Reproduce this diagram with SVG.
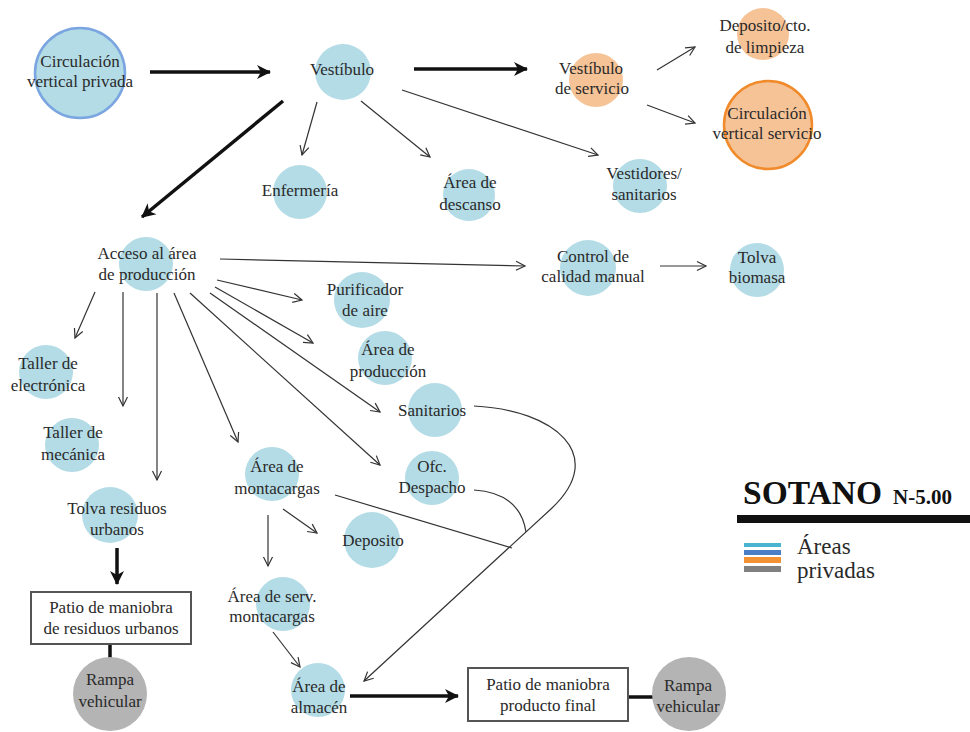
<svg xmlns="http://www.w3.org/2000/svg" width="970" height="732" viewBox="0 0 970 732">
<defs>
<style>
.lb{fill:#b3dce6}
.or{fill:#f6c397}
.gr{fill:#b4b4b4}
text{font-family:"Liberation Serif","DejaVu Serif",serif;font-size:17px;fill:#2a2a2a;text-anchor:middle}
.th{fill:none;stroke:#333;stroke-width:1.2}
.tk{fill:none;stroke:#111;stroke-width:3.5}
.box{fill:#fff;stroke:#555;stroke-width:2}
</style>
<marker id="a" markerUnits="userSpaceOnUse" markerWidth="14" markerHeight="14" refX="10" refY="6" orient="auto">
<path d="M1,1.5 L10,6 L1,10.5" fill="none" stroke="#333" stroke-width="1.2"/>
</marker>
<marker id="b" markerUnits="userSpaceOnUse" markerWidth="18" markerHeight="18" refX="13" refY="8" orient="auto">
<path d="M0,1 L14,8 L0,15 L4,8 z" fill="#111"/>
</marker>
</defs>
<rect width="970" height="732" fill="#fff"/>

<g id="connectors">
<line class="tk" x1="150" y1="72" x2="270" y2="72" marker-end="url(#b)"/>
<line class="tk" x1="414" y1="69" x2="527" y2="69" marker-end="url(#b)"/>
<line class="tk" x1="283" y1="101" x2="142" y2="217" marker-end="url(#b)"/>
<line class="th" x1="317" y1="102" x2="302" y2="155" marker-end="url(#a)"/>
<line class="th" x1="361" y1="101" x2="430" y2="157" marker-end="url(#a)"/>
<line class="th" x1="402" y1="90" x2="598" y2="155" marker-end="url(#a)"/>
<line class="th" x1="657" y1="70" x2="695" y2="47" marker-end="url(#a)"/>
<line class="th" x1="647" y1="105" x2="695" y2="123" marker-end="url(#a)"/>
<line class="th" x1="220" y1="259" x2="525" y2="266" marker-end="url(#a)"/>
<line class="th" x1="660" y1="266" x2="706" y2="266" marker-end="url(#a)"/>
<line class="th" x1="217" y1="280" x2="302" y2="300" marker-end="url(#a)"/>
<line class="th" x1="215" y1="287" x2="313" y2="343" marker-end="url(#a)"/>
<line class="th" x1="210" y1="293" x2="380" y2="412" marker-end="url(#a)"/>
<line class="th" x1="190" y1="293" x2="380" y2="465" marker-end="url(#a)"/>
<line class="th" x1="174" y1="293" x2="238" y2="442" marker-end="url(#a)"/>
<line class="th" x1="95" y1="292" x2="75" y2="338" marker-end="url(#a)"/>
<line class="th" x1="123" y1="292" x2="123" y2="406" marker-end="url(#a)"/>
<line class="th" x1="157" y1="293" x2="157" y2="480" marker-end="url(#a)"/>
<line class="tk" x1="117" y1="548" x2="117" y2="584" marker-end="url(#b)"/>
<line class="tk" x1="110" y1="644" x2="110" y2="658"/>
<line class="th" x1="283" y1="509" x2="317" y2="533" marker-end="url(#a)"/>
<line class="th" x1="268" y1="515" x2="268" y2="566" marker-end="url(#a)"/>
<line class="th" x1="273" y1="632" x2="300" y2="667" marker-end="url(#a)"/>
<line class="tk" x1="350" y1="696" x2="458" y2="696" marker-end="url(#b)"/>
<line class="tk" x1="628" y1="697" x2="653" y2="697"/>
<path class="th" d="M474 406 C555 410 608 455 552 508 L364 681" marker-end="url(#a)"/>
<path class="th" d="M474 490 Q520 493 526 532"/>
<line class="th" x1="335" y1="495" x2="512" y2="548"/>
</g>

<g id="n-circ-privada"><circle cx="80" cy="73" r="45" class="lb" stroke="#7aa5e0" stroke-width="2.5"/><text x="80" y="67">Circulación</text><text x="80" y="87">vertical privada</text></g>
<g id="n-vestibulo"><circle cx="343" cy="72" r="28" class="lb"/><text x="342" y="75">Vestíbulo</text></g>
<g id="n-vest-servicio"><circle cx="596" cy="80" r="27" class="or"/><text x="591" y="74">Vestíbulo</text><text x="592" y="94">de servicio</text></g>
<g id="n-deposito-limpieza"><circle cx="763" cy="34" r="26" class="or"/><text x="765" y="31">Deposito/cto.</text><text x="765" y="53">de limpieza</text></g>
<g id="n-circ-servicio"><circle cx="768" cy="125" r="44" class="or" stroke="#f08a2a" stroke-width="2.5"/><text x="767" y="119">Circulación</text><text x="767" y="139">vertical servicio</text></g>
<g id="n-enfermeria"><circle cx="300" cy="192" r="27" class="lb"/><text x="300" y="196">Enfermería</text></g>
<g id="n-descanso"><circle cx="469" cy="195" r="26" class="lb"/><text x="470" y="188">Área de</text><text x="470" y="210">descanso</text></g>
<g id="n-vestidores"><circle cx="640" cy="186" r="27" class="lb"/><text x="644" y="179">Vestidores/</text><text x="644" y="200">sanitarios</text></g>
<g id="n-acceso"><circle cx="146" cy="264" r="27" class="lb"/><text x="147" y="259">Acceso al área</text><text x="147" y="280">de producción</text></g>
<g id="n-control"><circle cx="588" cy="268" r="28" class="lb"/><text x="593" y="262">Control de</text><text x="593" y="282">calidad manual</text></g>
<g id="n-tolva-biomasa"><circle cx="757" cy="270" r="27" class="lb"/><text x="757" y="263">Tolva</text><text x="757" y="283">biomasa</text></g>
<g id="n-purificador"><circle cx="362" cy="300" r="28" class="lb"/><text x="365" y="295">Purificador</text><text x="365" y="316">de aire</text></g>
<g id="n-area-produccion"><circle cx="385" cy="358" r="27" class="lb"/><text x="388" y="355">Área de</text><text x="388" y="377">producción</text></g>
<g id="n-sanitarios"><circle cx="435" cy="410" r="27" class="lb"/><text x="432" y="416">Sanitarios</text></g>
<g id="n-despacho"><circle cx="432" cy="478" r="27" class="lb"/><text x="432" y="472">Ofc.</text><text x="432" y="493">Despacho</text></g>
<g id="n-montacargas"><circle cx="272" cy="474" r="27" class="lb"/><text x="277" y="472">Área de</text><text x="277" y="494">montacargas</text></g>
<g id="n-electronica"><circle cx="46" cy="372" r="27" class="lb"/><text x="48" y="369">Taller de</text><text x="48" y="391">electrónica</text></g>
<g id="n-mecanica"><circle cx="72" cy="445" r="27" class="lb"/><text x="73" y="438">Taller de</text><text x="73" y="460">mecánica</text></g>
<g id="n-tolva-residuos"><circle cx="110" cy="515" r="28" class="lb"/><text x="117" y="514">Tolva residuos</text><text x="117" y="535">urbanos</text></g>
<g id="n-patio-residuos"><rect x="31" y="592" width="160" height="52" class="box"/><text x="111" y="613">Patio de maniobra</text><text x="111" y="634">de residuos urbanos</text></g>
<g id="n-rampa1"><circle cx="110" cy="694" r="37" class="gr"/><text x="110" y="685">Rampa</text><text x="110" y="707">vehicular</text></g>
<g id="n-deposito"><circle cx="372" cy="540" r="28" class="lb"/><text x="373" y="546">Deposito</text></g>
<g id="n-serv-montacargas"><circle cx="283" cy="604" r="27" class="lb"/><text x="272" y="602">Área de serv.</text><text x="272" y="622">montacargas</text></g>
<g id="n-almacen"><circle cx="318" cy="690" r="27" class="lb"/><text x="319" y="692">Área de</text><text x="319" y="713">almacén</text></g>
<g id="n-patio-final"><rect x="468" y="668" width="160" height="53" class="box"/><text x="548" y="690">Patio de maniobra</text><text x="548" y="711">producto final</text></g>
<g id="n-rampa2"><circle cx="689" cy="694" r="37" class="gr"/><text x="688" y="691">Rampa</text><text x="688" y="712">vehicular</text></g>

<g id="legend">
<text x="743" y="504" style="text-anchor:start;font-size:33.5px;font-weight:bold;fill:#111">SOTANO</text>
<text x="893" y="504" style="text-anchor:start;font-size:21px;font-weight:bold;fill:#111">N-5.00</text>
<rect x="737" y="515" width="233" height="8" fill="#111"/>
<rect x="744" y="543" width="37" height="4" fill="#4ab3cf"/>
<rect x="744" y="550" width="37" height="5" fill="#4a7fc8"/>
<rect x="744" y="557" width="37" height="6" fill="#f39234"/>
<rect x="744" y="566" width="37" height="6" fill="#808080"/>
<text x="797" y="554" style="text-anchor:start;font-size:23px">Áreas</text>
<text x="797" y="578" style="text-anchor:start;font-size:23px">privadas</text>
</g>
</svg>
